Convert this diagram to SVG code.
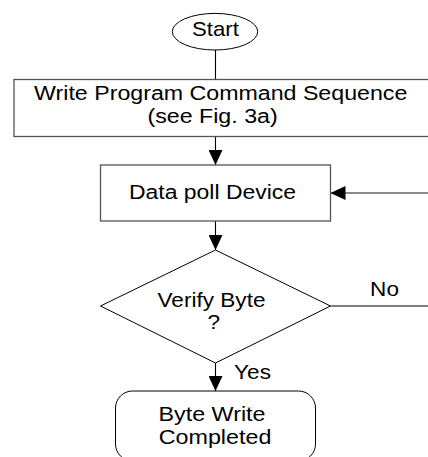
<svg xmlns="http://www.w3.org/2000/svg" width="428" height="457" viewBox="0 0 428 457">
<style>
text{font-family:"Liberation Sans",Arial,sans-serif;font-size:20px;fill:#000;text-anchor:middle}
.box{fill:#fff;stroke:#555;stroke-width:1.3}
.shape{fill:#fff;stroke:#000;stroke-width:1}
.ln{fill:none;stroke:#000;stroke-width:1.1}
.gl{fill:none;stroke:#666;stroke-width:1.3}
</style>
<defs>
<marker id="ah" markerUnits="userSpaceOnUse" markerWidth="15" markerHeight="14" viewBox="0 0 15 14" refX="15" refY="7" orient="auto">
<path d="M0,0 L15,7 L0,14 z" fill="#000"/>
</marker>
</defs>
<rect width="428" height="457" fill="#fff"/>
<g id="connectors">
<line class="ln" x1="215.5" y1="50" x2="215.5" y2="79"/>
<line class="ln" x1="215.5" y1="136.5" x2="215.5" y2="165" marker-end="url(#ah)"/>
<line class="gl" x1="428" y1="193" x2="330.5" y2="193" marker-end="url(#ah)"/>
<line class="ln" x1="215.5" y1="221" x2="215.5" y2="250" marker-end="url(#ah)"/>
<line class="ln" x1="330.5" y1="306" x2="428" y2="306"/>
<line class="ln" x1="215.5" y1="363" x2="215.5" y2="391" marker-end="url(#ah)"/>
<text transform="translate(384.5 296) scale(1.13 1)">No</text>
<text transform="translate(252.5 379) scale(1.13 1)">Yes</text>
</g>
<g id="start">
<ellipse class="shape" cx="215" cy="31.7" rx="42.7" ry="18.3"/>
<text transform="translate(215.5 36) scale(1.11 1)">Start</text>
</g>
<g id="write-program">
<rect class="box" x="14" y="79.5" width="420" height="57"/>
<text transform="translate(220.7 0) scale(1.16 1)"><tspan x="0" y="100.5">Write Program Command Sequence</tspan><tspan x="-7" y="123">(see Fig. 3a)</tspan></text>
</g>
<g id="data-poll">
<rect class="box" x="100.5" y="165" width="230" height="56"/>
<text transform="translate(212.5 199) scale(1.147 1)">Data poll Device</text>
</g>
<g id="verify">
<path class="shape" d="M215.5,250 L330.5,306 L215.5,363 L100.5,306 Z"/>
<text transform="translate(211.5 0) scale(1.13 1)"><tspan x="0" y="307">Verify Byte</tspan><tspan x="2" y="329.5">?</tspan></text>
</g>
<g id="completed">
<rect class="shape" x="115.5" y="391" width="200" height="70" rx="17" ry="17"/>
<text transform="translate(213.5 0) scale(1.165 1)"><tspan x="-1.3" y="421">Byte Write</tspan><tspan x="1.3" y="444">Completed</tspan></text>
</g>
</svg>
